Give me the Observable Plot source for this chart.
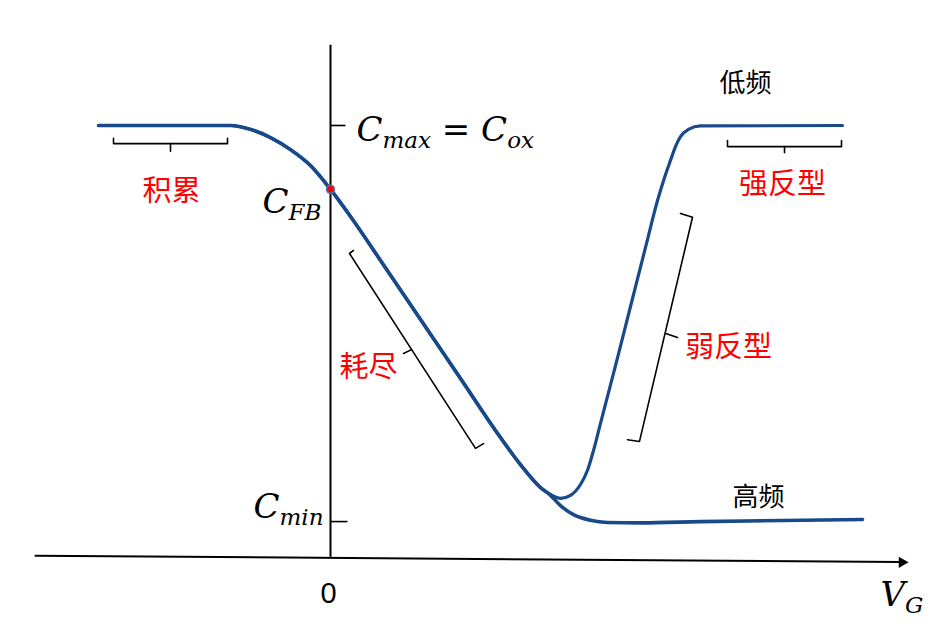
<!DOCTYPE html>
<html><head><meta charset="utf-8">
<script src="https://cdn.jsdelivr.net/npm/d3@7"></script>
<script src="https://cdn.jsdelivr.net/npm/@observablehq/plot@0.6"></script>
<style>body{margin:0;background:#fff}</style>
</head><body><div id="chart"></div>
<script>
// Gate voltage (arbitrary units, 0 at the C axis) and normalized capacitance (Cox = 1)
const lowFreqV = [-4.64,-2.00,-1.60,-1.20,-0.80,-0.40,0.00,0.40,1.00,1.80,2.60,3.40,3.80,4.20,4.40,4.60,4.80,5.00,5.14,5.26,5.40,5.70,6.00,6.30,6.54,6.68,6.80,6.90,7.00,7.16,7.40,10.24];
const lowFreqC = [1.000,1.000,0.991,0.972,0.944,0.907,0.852,0.789,0.687,0.550,0.413,0.276,0.213,0.160,0.144,0.135,0.142,0.167,0.200,0.246,0.309,0.443,0.580,0.717,0.826,0.879,0.919,0.951,0.974,0.991,0.999,1.000];
const highFreqV = [-4.64,-2.00,-1.60,-1.20,-0.80,-0.40,0.00,0.40,1.00,1.80,2.60,3.40,3.80,4.20,4.40,4.60,4.86,5.20,5.54,6.20,7.40,10.64];
const highFreqC = [1.000,1.000,0.991,0.972,0.944,0.907,0.852,0.789,0.687,0.550,0.413,0.276,0.213,0.160,0.142,0.118,0.097,0.084,0.079,0.078,0.081,0.086];

const C_FB = 0.852;
const C_MAX = 1.0;
const C_MIN = 0.081;

// Region brackets (annotation polylines)
const bracketId = ["acc","acc","acc","acc","acc2","acc2",
                   "inv","inv","inv","inv","inv2","inv2",
                   "dep","dep","dep","dep","dep2","dep2",
                   "weak","weak","weak","weak","weak2","weak2"];
const bracketV = [-4.34,-4.34,-2.06,-2.06,-3.20,-3.20,
                  7.94,7.94,10.22,10.22,9.08,9.08,
                  0.46,0.38,2.90,3.06,1.62,1.46,
                  7.00,7.24,6.18,5.94,6.72,6.94];
const bracketC = [0.970,0.958,0.958,0.970,0.958,0.940,
                  0.965,0.951,0.951,0.965,0.951,0.937,
                  0.710,0.703,0.251,0.262,0.480,0.471,
                  0.796,0.787,0.267,0.271,0.517,0.508];

// Text labels
const mathText = ["C_{max} = C_{ox}", "C_{FB}", "C_{min}", "V_{G}"];
const mathV = [0.52, -1.36, -1.54, 11.00];
const mathC = [0.965, 0.798, 0.090, -0.114];

const regionText = ["积累", "耗尽", "弱反型", "强反型"];
const regionV = [-3.18, 0.76, 7.96, 9.04];
const regionC = [0.847, 0.439, 0.485, 0.863];

const freqText = ["低频", "高频"];
const freqV = [8.30, 8.56];
const freqC = [1.097, 0.137];

const zeroText = ["0"];
const zeroV = [-0.04];
const zeroC = [-0.107];

const lf = lowFreqV.map((v, i) => ({V: v, C: lowFreqC[i]}));
const hf = highFreqV.map((v, i) => ({V: v, C: highFreqC[i]}));
const brackets = bracketV.map((v, i) => ({V: v, C: bracketC[i], id: bracketId[i]}));
const math = mathText.map((t, i) => ({t, V: mathV[i], C: mathC[i]}));
const regions = regionText.map((t, i) => ({t, V: regionV[i], C: regionC[i]}));
const freqs = freqText.map((t, i) => ({t, V: freqV[i], C: freqC[i]}));
const zeros = zeroText.map((t, i) => ({t, V: zeroV[i], C: zeroC[i]}));

const xAxisLine = [{V: -5.90, C: 0.002}, {V: 11.40, C: -0.013}];
const ticks = [{x1: 0, x2: 0.30, y: C_MAX}, {x1: 0, x2: 0.34, y: C_MIN}];

const blue = "#184a8b";

const chart = Plot.plot({
  width: 932, height: 630, margin: 0,
  x: {domain: [-6.6, 12.04], range: [0, 932], axis: null},
  y: {domain: [-0.1717, 1.2900], range: [630, 0], axis: null},
  style: {background: "#fff"},
  marks: [
    Plot.ruleX([0], {y1: -0.002, y2: 1.186, stroke: "black", strokeWidth: 2}),
    Plot.line(xAxisLine, {x: "V", y: "C", stroke: "black", strokeWidth: 2}),
    Plot.dot([{V: 11.43, C: -0.0135}], {x: "V", y: "C", symbol: "triangle", rotate: 90, r: 4.2, fill: "black"}),
    Plot.link(ticks, {x1: "x1", x2: "x2", y1: "y", y2: "y", stroke: "black", strokeWidth: 1.6}),
    Plot.line(brackets, {x: "V", y: "C", z: "id", stroke: "black", strokeWidth: 1.6}),
    Plot.line(hf, {x: "V", y: "C", stroke: blue, strokeWidth: 3.6, curve: "monotone-x"}),
    Plot.line(lf, {x: "V", y: "C", stroke: blue, strokeWidth: 3.2, curve: "monotone-x"}),
    Plot.dot([{V: 0, C: C_FB}], {x: "V", y: "C", r: 4, fill: "red", stroke: "#4a78b0", strokeWidth: 1.5}),
    Plot.text(math, {x: "V", y: "C", text: "t", textAnchor: "start", lineAnchor: "bottom",
      fontFamily: "DejaVu Serif", fontStyle: "italic", fontSize: 34, fill: "black"}),
    Plot.text(regions, {x: "V", y: "C", text: "t", textAnchor: "middle", lineAnchor: "middle",
      fontFamily: "Noto Sans CJK SC", fontSize: 29, fill: "#ff0000"}),
    Plot.text(freqs, {x: "V", y: "C", text: "t", textAnchor: "middle", lineAnchor: "middle",
      fontFamily: "Noto Sans CJK SC", fontSize: 26, fill: "black"}),
    Plot.text(zeros, {x: "V", y: "C", text: "t", textAnchor: "middle", lineAnchor: "bottom",
      fontFamily: "Liberation Sans", fontSize: 29, fill: "black"})
  ]
});

// turn "_{...}" into subscript tspans
d3.select(chart).selectAll("text").each(function() {
  const s = this.textContent;
  if (!s.includes("_{")) return;
  while (this.firstChild) this.removeChild(this.firstChild);
  const parts = s.split(/(_\{[^}]*\})/);
  let sub = false;
  for (const p of parts) {
    if (!p) continue;
    const t = document.createElementNS("http://www.w3.org/2000/svg", "tspan");
    if (p.startsWith("_{")) {
      t.textContent = p.slice(2, -1);
      t.setAttribute("font-size", "23");
      t.setAttribute("dy", "7");
      sub = true;
    } else {
      t.textContent = p;
      if (sub) t.setAttribute("dy", "-7");
      sub = false;
    }
    this.appendChild(t);
  }
});

document.getElementById("chart").appendChild(chart);
</script>
</body></html>
